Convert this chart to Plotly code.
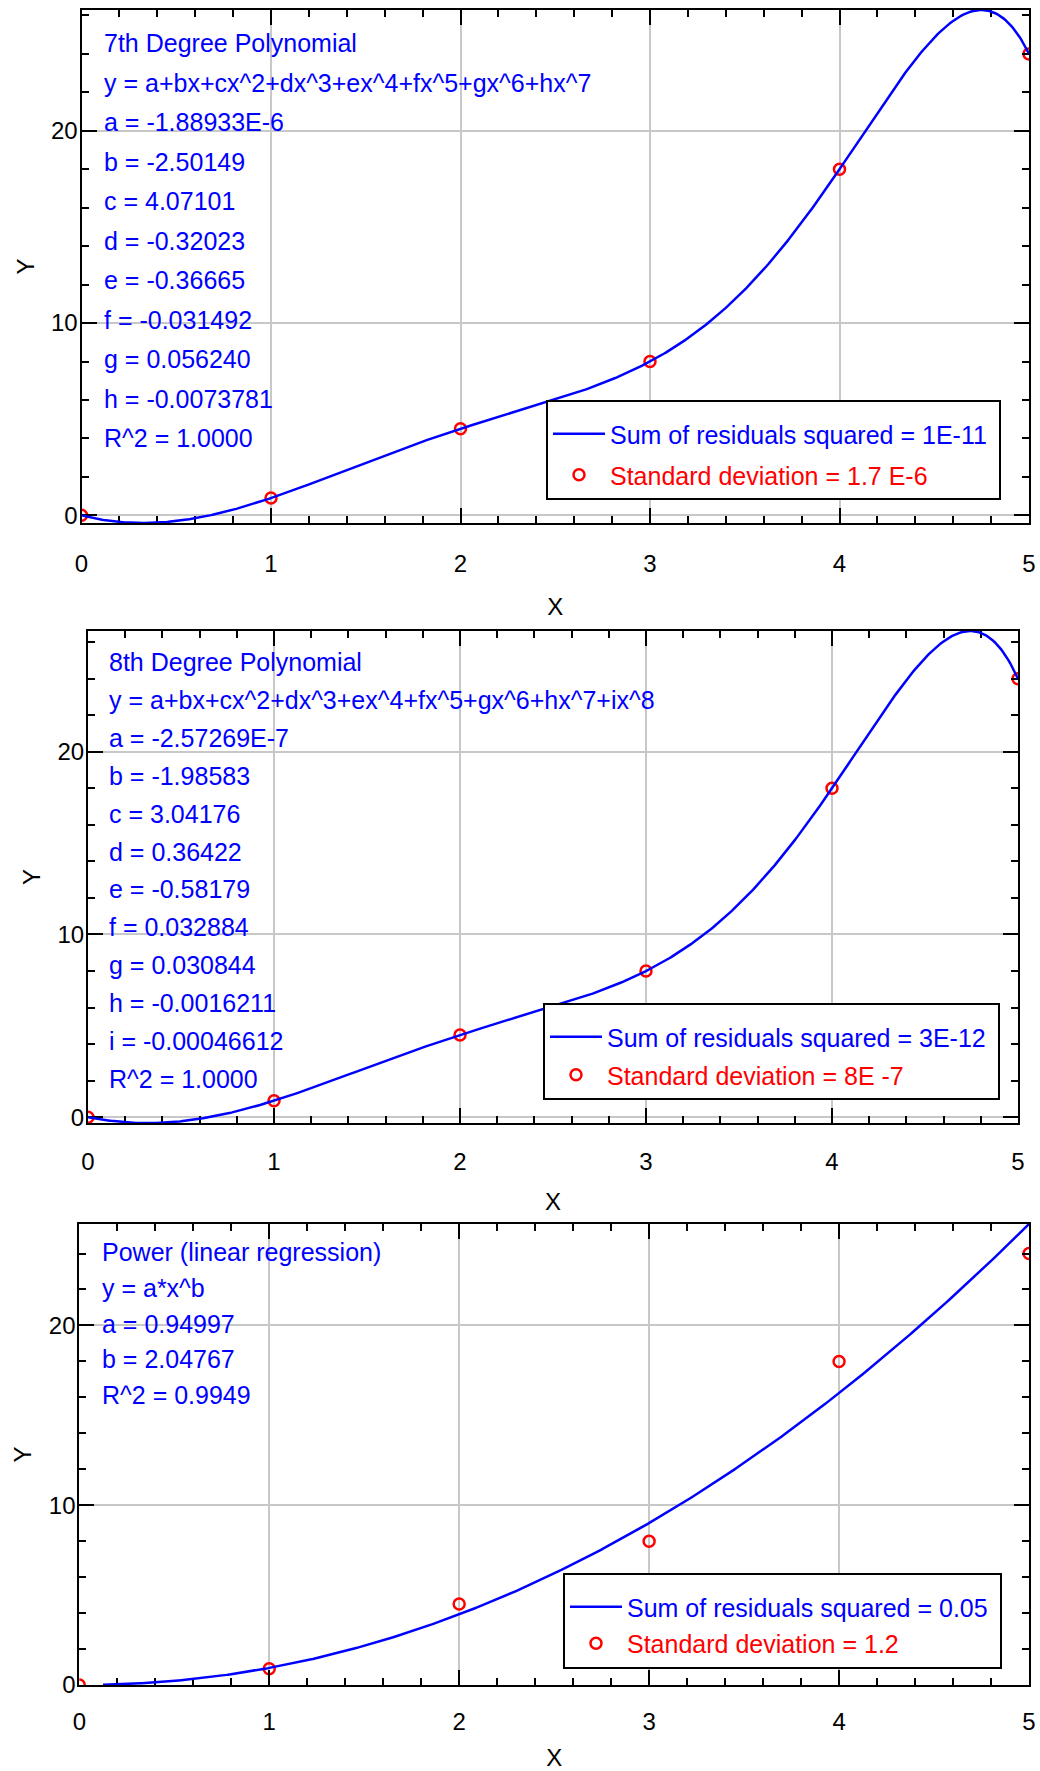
import numpy as np
import plotly.graph_objects as go

# ---------------- data ----------------
x_data = [0, 1, 2, 3, 4, 5]
y_data = [0, 0.9, 4.5, 8, 18, 24]

coef7 = [-1.88933e-6, -2.50149, 4.07101, -0.32023, -0.36665, -0.031492, 0.056240, -0.0073781]
coef8 = [-2.57269e-7, -1.98583, 3.04176, 0.36422, -0.58179, 0.032884, 0.030844, -0.0016211, -0.00046612]
power_a = 0.94997
power_b = 2.04767

text7 = ["7th Degree Polynomial", "y = a+bx+cx^2+dx^3+ex^4+fx^5+gx^6+hx^7",
         "a = -1.88933E-6", "b = -2.50149", "c = 4.07101", "d = -0.32023", "e = -0.36665",
         "f = -0.031492", "g = 0.056240", "h = -0.0073781", "R^2 = 1.0000"]
text8 = ["8th Degree Polynomial", "y = a+bx+cx^2+dx^3+ex^4+fx^5+gx^6+hx^7+ix^8",
         "a = -2.57269E-7", "b = -1.98583", "c = 3.04176", "d = 0.36422", "e = -0.58179",
         "f = 0.032884", "g = 0.030844", "h = -0.0016211", "i = -0.00046612", "R^2 = 1.0000"]
textp = ["Power (linear regression)", "y = a*x^b", "a = 0.94997", "b = 2.04767", "R^2 = 0.9949"]

legend_line = ["Sum of residuals squared = 1E-11", "Sum of residuals squared = 3E-12", "Sum of residuals squared = 0.05"]
legend_pts = ["Standard deviation = 1.7 E-6", "Standard deviation = 8E -7", "Standard deviation = 1.2"]

x_ticks = [0, 1, 2, 3, 4, 5]
y_ticks = [0, 10, 20]

# ---------------- model curves (evaluated from the shown coefficients) ----------------
xs = np.linspace(0, 5, 601)
y7 = np.polyval(coef7[::-1], xs)
y8 = np.polyval(coef8[::-1], xs)
xs_p = np.linspace(0.125, 5, 601)
yp = power_a * xs_p ** power_b

FONT = "Liberation Sans, Arial, sans-serif"
BLUE = "#0000FF"
RED = "#FF0000"
W, H = 1040, 1771
NB = "\u00a0"

fig = go.Figure()

panels = [
    dict(xs=xs, ys=y7, ax="", left=81.5, right=1029, top=10, bottom=523, rng=[y7.min(), y7.max()],
         text=text7, tx=20.5, t0=33, dt=39.5, leg=(546, 400), gap=5.5, xls=18, xts=22),
    dict(xs=xs, ys=y8, ax="2", left=88, right=1018, top=631, bottom=1123, rng=[y8.min(), y8.max()],
         text=text8, tx=19, t0=31, dt=37.9, leg=(543, 1003), gap=2.5, xls=16, xts=19),
    dict(xs=xs_p, ys=yp, ax="3", left=79.3, right=1029, top=1224, bottom=1685, rng=[0, yp.max()],
         text=textp, tx=21, t0=28, dt=35.8, leg=(563, 1573), gap=1, xls=14, xts=22),
]

axis_common = dict(
    showline=True, linecolor="black", linewidth=2, mirror="allticks",
    ticks="inside", ticklen=15, tickwidth=2, tickcolor="black",
    showgrid=True, gridcolor="#c8c8c8", gridwidth=2, zeroline=False,
    tickfont=dict(family=FONT, size=24, color="black"), automargin=False,
)

layout = {}
for i, p in enumerate(panels):
    ax = p["ax"]
    xname = "x" + ax
    yname = "y" + ax
    legname = "legend" + ax
    fig.add_trace(go.Scatter(
        x=p["xs"], y=p["ys"], mode="lines", xaxis=xname, yaxis=yname,
        line=dict(color=BLUE, width=2.5), zorder=1,
        name=f"<span style='color:{BLUE}'>{legend_line[i]}</span>{NB}", legend=legname,
        legendgroup=f"line{i}",
    ))
    fig.add_trace(go.Scatter(
        x=x_data, y=y_data, mode="markers", xaxis=xname, yaxis=yname,
        marker=dict(symbol="circle-open", size=11, color=RED, line=dict(width=2.5, color=RED)),
        name=f"<span style='color:{RED}'>{legend_pts[i]}</span>", legend=legname,
        legendgroup=f"pts{i}",
    ))
    layout["xaxis" + ax] = dict(
        axis_common, domain=[p["left"] / W, p["right"] / W], anchor=yname,
        range=[0, 5], tickvals=x_ticks, ticklabelstandoff=p["xls"],
        minor=dict(dtick=0.2, ticks="inside", ticklen=7, tickwidth=2, tickcolor="black", showgrid=False),
        title=dict(text="X", font=dict(family=FONT, size=24, color="black"), standoff=p["xts"]),
    )
    layout["yaxis" + ax] = dict(
        axis_common, domain=[1 - p["bottom"] / H, 1 - p["top"] / H], anchor=xname,
        range=list(map(float, p["rng"])), tickvals=y_ticks, ticklabelstandoff=-3,
        minor=dict(dtick=2, ticks="inside", ticklen=7, tickwidth=2, tickcolor="black", showgrid=False),
        title=dict(text="Y", font=dict(family=FONT, size=24, color="black"), standoff=10),
    )
    layout[legname] = dict(
        x=p["leg"][0] / W, y=1 - p["leg"][1] / H, xanchor="left", yanchor="top",
        bgcolor="white", bordercolor="black", borderwidth=2,
        font=dict(family=FONT, size=25), traceorder="grouped", tracegroupgap=p["gap"],
        itemwidth=52, title=dict(text=NB, font=dict(size=7)),
    )
    for j, line in enumerate(p["text"]):
        fig.add_annotation(
            text=line, xref=xname + " domain", yref=yname + " domain", x=0, y=1,
            xanchor="left", yanchor="middle", xshift=p["tx"], yshift=-(p["t0"] + j * p["dt"]),
            showarrow=False, font=dict(family=FONT, size=25, color=BLUE),
        )

fig.update_layout(
    width=W, height=H, margin=dict(l=0, r=0, t=0, b=0, autoexpand=False),
    paper_bgcolor="white", plot_bgcolor="white", showlegend=True,
    **layout,
)

fig.write_html(
    "out.html",
    config={"displayModeBar": False},
    post_script="document.body.style.margin='0';document.body.style.overflow='hidden';",
)
